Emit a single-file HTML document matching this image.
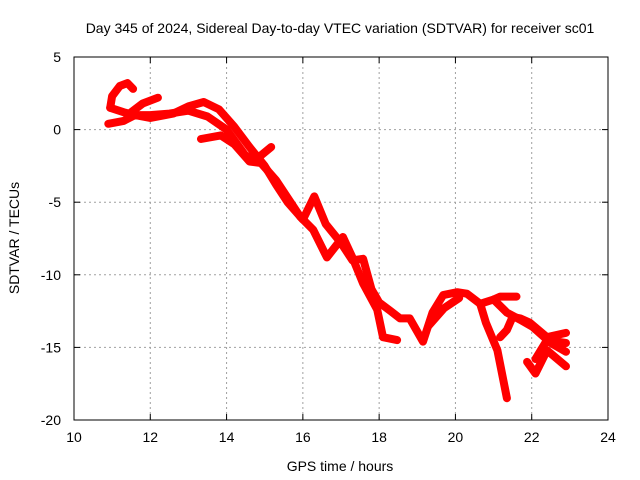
<!DOCTYPE html>
<html><head><meta charset="utf-8"><style>
body{margin:0;background:#fff}
svg{display:block;font-family:"Liberation Sans",sans-serif}
</style></head><body>
<svg id="chart" width="640" height="480">
<rect width="640" height="480" fill="#fff"/>
<text x="340" y="33" font-size="14" text-anchor="middle">Day 345 of 2024, Sidereal Day-to-day VTEC variation (SDTVAR) for receiver sc01</text>
<g id="grid"></g>
<g id="series"></g>
<rect x="74" y="57" width="534" height="363" fill="none" stroke="#000"/>
<g id="axes"></g>
<text x="340" y="471" font-size="14" text-anchor="middle">GPS time / hours</text>
<text x="19" y="238" font-size="14" text-anchor="middle" transform="rotate(-90 19 238)">SDTVAR / TECUs</text>
</svg>
<script>
const xTicks=[10,12,14,16,18,20,22,24];
const yTicks=[5,0,-5,-10,-15,-20];
const track1_t=[10.95,11.0,11.2,11.4,11.55];
const track1_v=[1.5,2.3,3.0,3.2,2.8];
const track2_t=[10.95,11.3,11.6,12.0,12.5,13.0,13.5,14.0,14.5,14.8,15.17];
const track2_v=[1.5,1.2,1.0,1.0,1.1,1.3,0.9,0.0,-1.8,-2.0,-1.2];
const track3_t=[11.5,11.8,12.2];
const track3_v=[1.2,1.8,2.2];
const track4_t=[10.9,11.3,11.6,12.0,12.6,13.0,13.4,13.8,14.2,14.6,15.0,15.3,15.6,16.0,16.3,16.6,17.0,17.3,17.58,17.8,18.0,18.3,18.55,18.8,19.15,19.4,19.68,20.05,20.3,20.65,21.0,21.17,21.6];
const track4_v=[0.4,0.6,1.0,0.8,1.1,1.6,1.9,1.4,0.2,-1.2,-2.5,-3.8,-5.0,-6.2,-4.6,-6.5,-7.8,-9.0,-8.9,-11.0,-11.9,-12.5,-13.0,-13.0,-14.6,-12.6,-11.4,-11.2,-11.3,-12.0,-11.7,-11.5,-11.5];
const track5_t=[13.33,13.85,14.2,14.6,14.9,15.3,15.93,16.27,16.63,17.05,17.3,17.58,17.95,18.1,18.47];
const track5_v=[-0.65,-0.4,-1.0,-2.2,-2.3,-3.5,-6.0,-6.9,-8.8,-7.4,-8.8,-10.6,-12.4,-14.3,-14.5];
const track6_t=[20.65,20.8,21.1,21.35];
const track6_v=[-12.0,-13.3,-15.2,-18.5];
const track7_t=[21.17,21.35,21.5,21.7,21.95,22.4,22.9];
const track7_v=[-14.3,-13.8,-12.9,-13.0,-13.3,-14.3,-14.0];
const track8_t=[21.0,21.35,21.7,22.03,22.5,22.9];
const track8_v=[-11.7,-12.6,-13.1,-13.6,-14.7,-15.3];
const track9_t=[21.88,22.1,22.4,22.9];
const track9_v=[-16.0,-16.8,-15.2,-16.3];
const track10_t=[22.1,22.4,22.9];
const track10_v=[-15.8,-14.5,-14.7];
const track11_t=[19.3,19.7,20.1];
const track11_v=[-13.5,-12.3,-11.6];
const tracks=[[track1_t,track1_v],[track2_t,track2_v],[track3_t,track3_v],[track4_t,track4_v],[track5_t,track5_v],[track6_t,track6_v],[track7_t,track7_v],[track8_t,track8_v],[track9_t,track9_v],[track10_t,track10_v],[track11_t,track11_v]];
const X=t=>74+(t-10)*534/14, Y=v=>57+(5-v)*363/25;
const NS="http://www.w3.org/2000/svg";
const grid=document.getElementById('grid'),axes=document.getElementById('axes'),ser=document.getElementById('series');
function mk(tag,attrs,parent){const e=document.createElementNS(NS,tag);for(const k in attrs)e.setAttribute(k,attrs[k]);parent.appendChild(e);return e;}
xTicks.forEach(t=>{const x=X(t);
 if(t>10&&t<24){const g=mk('line',{x1:x,x2:x,y1:57,y2:420,stroke:'#a0a0a0','stroke-dasharray':'2,3'},grid);
 
 }
 const l=mk('line',{x1:x,x2:x,y1:420,y2:414,stroke:'#000'},axes);
 
 
 const l2=mk('line',{x1:x,x2:x,y1:57,y2:63,stroke:'#000'},axes);
 
 
 const tx=mk('text',{x:x,y:442,'font-size':14,'text-anchor':'middle'},axes);tx.textContent=t;
 
 });
yTicks.forEach(v=>{const y=Y(v);
 if(v<5&&v>-20){const g=mk('line',{x1:74,x2:608,y1:y,y2:y,stroke:'#a0a0a0','stroke-dasharray':'2,3'},grid);
 
 }
 const l=mk('line',{x1:74,x2:80,y1:y,y2:y,stroke:'#000'},axes);
 
 
 const l2=mk('line',{x1:602,x2:608,y1:y,y2:y,stroke:'#000'},axes);
 
 
 const tx=mk('text',{x:61,y:y+5,'font-size':14,'text-anchor':'end'},axes);tx.textContent=v;
 
 });
tracks.forEach(([ts,vs])=>{
 const pts=ts.map((t,i)=>X(t).toFixed(1)+','+Y(vs[i]).toFixed(1)).join(' ');
 const p=mk('polyline',{points:pts,fill:'none',stroke:'#ff0000','stroke-width':8,'stroke-linejoin':'round','stroke-linecap':'round'},ser);
 
 });
</script>
</body></html>
